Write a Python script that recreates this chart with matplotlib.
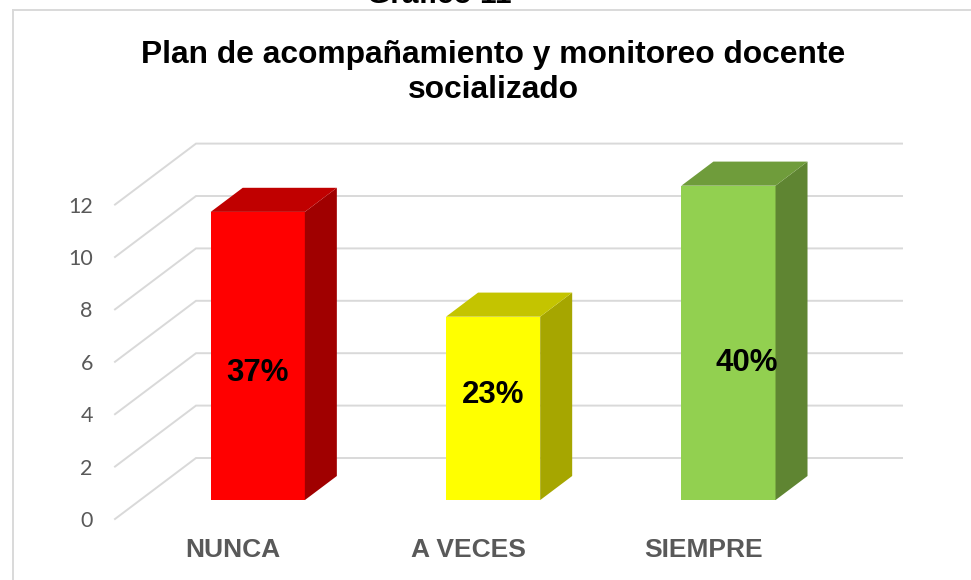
import matplotlib
matplotlib.use("Agg")
from matplotlib import pyplot as plt
from matplotlib.lines import Line2D

W, H = 971, 580

categories = ["NUNCA", "A VECES", "SIEMPRE"]
values = [11, 7, 12]
labels = ["37%", "23%", "40%"]
yticks = [0, 2, 4, 6, 8, 10, 12]

front_colors = ["#ff0000", "#ffff00", "#92d050"]
top_colors = ["#c00000", "#c4c400", "#6f9c3b"]
side_colors = ["#a00000", "#a6a600", "#5f8532"]

# shift of the back wall, in data units (x categories, y values)
DEPTH_X = 81 / 235.3
DEPTH_Y = 61 / 26.2
BAR_W = 0.4
D0, D1 = 0.31, 0.705

fig = plt.figure(figsize=(W / 100, H / 100), dpi=100)
fig.patch.set_facecolor("white")

# chart frame runs off the right and bottom of the picture
fig.add_artist(Line2D([13 / W, 13 / W], [0, 1 - 10 / H], color="#d9d9d9", lw=1.4))
fig.add_artist(Line2D([13 / W, 1], [1 - 10 / H, 1 - 10 / H], color="#d9d9d9", lw=1.4))

# axes = front plane of the 3D box
ax = fig.add_axes([115 / W, 1 - 519 / H, 706 / W, 26.2 * 14 / H])
ax.set_xlim(0, 3)
ax.set_ylim(0, 14)
ax.patch.set_visible(False)
for s in ax.spines.values():
    s.set_visible(False)


def shear(x, y, d):
    return x + d * DEPTH_X, y + d * DEPTH_Y


for v in yticks:
    bx, by = shear(0, v, 1)
    ex, ey = shear(3, v, 1)
    ax.plot([0, bx, ex], [v, by, ey], color="#d9d9d9", lw=1.4, clip_on=False, zorder=1,
            solid_joinstyle="miter")

for i, v in enumerate(values):
    x0 = i + 0.5 - BAR_W / 2
    x1 = i + 0.5 + BAR_W / 2
    fl = shear(x0, 0, D0)
    fr = shear(x1, 0, D0)
    tl = shear(x0, v, D0)
    tr = shear(x1, v, D0)
    br = shear(x1, 0, D1)
    tbr = shear(x1, v, D1)
    tbl = shear(x0, v, D1)
    ax.fill(*zip(fl, fr, tr, tl), color=front_colors[i], lw=0, zorder=3, clip_on=False)
    ax.fill(*zip(fr, br, tbr, tr), color=side_colors[i], lw=0, zorder=3, clip_on=False)
    ax.fill(*zip(tl, tr, tbr, tbl), color=top_colors[i], lw=0, zorder=3, clip_on=False)

# data label offsets in px from the middle of the bar front
label_off = [(0, -17), (0, 13), (18, -20)]
for i, v in enumerate(values):
    cx, cy = shear(i + 0.5, v / 2, D0)
    ax.annotate(labels[i], (cx, cy), xytext=(label_off[i][0] * 0.72, label_off[i][1] * 0.72),
                textcoords="offset points", ha="center", va="center", fontsize=22.5,
                fontweight="bold", family="Liberation Sans", color="black", zorder=5)

ax.set_yticks(yticks)
ax.set_yticklabels([str(t) for t in yticks], family="Lato", fontsize=15.5, color="#595959")
ax.set_xticks([0.5, 1.5, 2.5])
ax.set_xticklabels(categories, family="Liberation Sans", fontweight="bold", fontsize=19,
                   color="#595959")
ax.tick_params(axis="y", length=0, pad=16)
ax.tick_params(axis="x", length=0, pad=14)

fig.text(493 / W, 1 - 72.5 / H, "Plan de acompañamiento y monitoreo docente\nsocializado",
         ha="center", va="center", ma="center", family="Liberation Sans", fontweight="bold",
         fontsize=22.9, color="black", linespacing=1.2)
# the caption above the frame is cut by the top edge, as in the source picture
fig.text(439 / W, 1 - 3 / H, "Gráfico 11", ha="center", va="baseline", family="Liberation Sans",
         fontweight="bold", fontsize=21.5, color="black")

fig.savefig("out.png", dpi=100)
